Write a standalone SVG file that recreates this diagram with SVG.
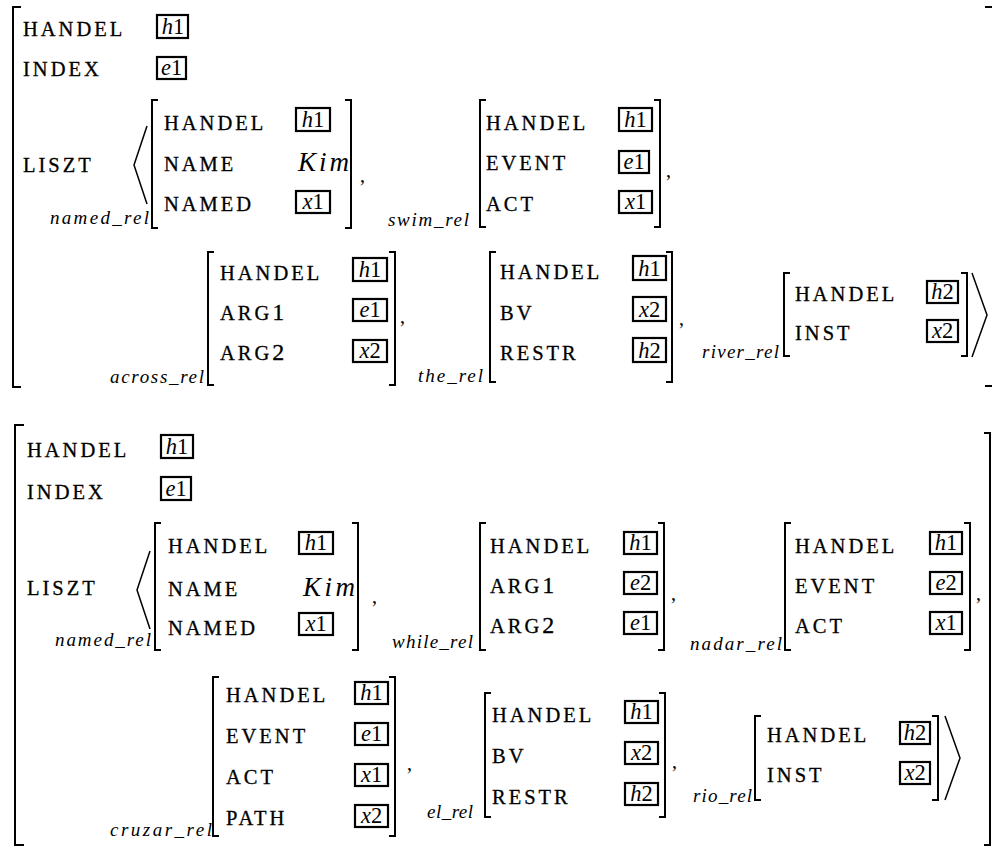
<svg xmlns="http://www.w3.org/2000/svg" width="992" height="848" viewBox="0 0 992 848">
<style>
.f{font-family:"Liberation Serif",serif;font-size:20.5px;letter-spacing:3px;stroke:#000;stroke-width:0.3px}
.d{font-size:24px;letter-spacing:0}
.v{font-family:"Liberation Serif",serif;font-size:22.5px;text-anchor:middle}
.it{font-style:italic}
.r{font-family:"Liberation Serif",serif;font-style:italic;font-size:19px}
.k{font-family:"Liberation Serif",serif;font-style:italic;font-size:27px}
.c{font-family:"Liberation Serif",serif;font-size:20px}
.b{fill:none;stroke:#000;stroke-width:2}
.x{fill:none;stroke:#000;stroke-width:2.2}
.a{fill:none;stroke:#000;stroke-width:1.5}
</style>
<rect width="992" height="848" fill="#fff"/>

<!-- ================= TOP AVM ================= -->
<g id="avm-top">
  <path class="b" d="M21,7 H13 V387 H21"/>
  <path class="b" d="M985,7 H992 M985,386 H992"/>
  <text class="f" x="23" y="36">HANDEL</text>
  <rect class="x" x="157" y="15" width="31" height="23"/>
  <text class="v" x="173" y="34"><tspan class="it">h</tspan>1</text>
  <text class="f" x="23" y="76">INDEX</text>
  <rect class="x" x="157" y="57" width="29" height="22"/>
  <text class="v" x="171.5" y="75"><tspan class="it">e</tspan>1</text>
  <text class="f" x="23" y="172">LISZT</text>
  <polyline class="a" points="147,126 134,165 147,204"/>
</g>

<g id="named-rel-1">
  <path class="b" d="M158,100 H152 V228 H158"/>
  <path class="b" d="M345,100 H351 V228 H345"/>
  <text class="f" x="164" y="130">HANDEL</text>
  <rect class="x" x="296" y="108" width="34" height="23"/>
  <text class="v" x="313" y="127"><tspan class="it">h</tspan>1</text>
  <text class="f" x="164" y="171">NAME</text>
  <text class="k" x="298" y="171" textLength="51" lengthAdjust="spacing">Kim</text>
  <text class="f" x="164" y="211">NAMED</text>
  <rect class="x" x="296" y="191" width="34" height="22"/>
  <text class="v" x="313" y="209"><tspan class="it">x</tspan>1</text>
  <text class="r" x="50" y="224" textLength="99" lengthAdjust="spacing">named_rel</text>
  <text class="c" x="360" y="182">,</text>
</g>

<g id="swim-rel">
  <path class="b" d="M486,100 H480 V227 H486"/>
  <path class="b" d="M654,100 H660 V227 H654"/>
  <text class="f" x="486" y="130">HANDEL</text>
  <rect class="x" x="619" y="108" width="33" height="23"/>
  <text class="v" x="635.5" y="127"><tspan class="it">h</tspan>1</text>
  <text class="f" x="486" y="170">EVENT</text>
  <rect class="x" x="619" y="151" width="30" height="22"/>
  <text class="v" x="634" y="169"><tspan class="it">e</tspan>1</text>
  <text class="f" x="486" y="211">ACT</text>
  <rect class="x" x="619" y="191" width="33" height="22"/>
  <text class="v" x="635.5" y="209"><tspan class="it">x</tspan>1</text>
  <text class="r" x="388" y="226" textLength="81" lengthAdjust="spacing">swim_rel</text>
  <text class="c" x="666" y="177">,</text>
</g>

<g id="across-rel">
  <path class="b" d="M214,252 H208 V385 H214"/>
  <path class="b" d="M389,252 H395 V385 H389"/>
  <text class="f" x="220" y="280">HANDEL</text>
  <rect class="x" x="353" y="258" width="34" height="23"/>
  <text class="v" x="370" y="277"><tspan class="it">h</tspan>1</text>
  <text class="f" x="220" y="320">ARG<tspan class="d">1</tspan></text>
  <rect class="x" x="353" y="299" width="34" height="22"/>
  <text class="v" x="370" y="317"><tspan class="it">e</tspan>1</text>
  <text class="f" x="220" y="360">ARG<tspan class="d">2</tspan></text>
  <rect class="x" x="353" y="340" width="34" height="22"/>
  <text class="v" x="370" y="358"><tspan class="it">x</tspan>2</text>
  <text class="r" x="110" y="383" textLength="94" lengthAdjust="spacing">across_rel</text>
  <text class="c" x="400" y="323">,</text>
</g>

<g id="the-rel">
  <path class="b" d="M496,252 H490 V382 H496"/>
  <path class="b" d="M666,252 H672 V382 H666"/>
  <text class="f" x="500" y="279">HANDEL</text>
  <rect class="x" x="633" y="256" width="33" height="24"/>
  <text class="v" x="649.5" y="276"><tspan class="it">h</tspan>1</text>
  <text class="f" x="500" y="320">BV</text>
  <rect class="x" x="633" y="297" width="33" height="24"/>
  <text class="v" x="649.5" y="317"><tspan class="it">x</tspan>2</text>
  <text class="f" x="500" y="360">RESTR</text>
  <rect class="x" x="633" y="338" width="33" height="24"/>
  <text class="v" x="649.5" y="358"><tspan class="it">h</tspan>2</text>
  <text class="r" x="418" y="382" textLength="65" lengthAdjust="spacing">the_rel</text>
  <text class="c" x="679" y="325">,</text>
</g>

<g id="river-rel">
  <path class="b" d="M790,273 H784 V356 H790"/>
  <path class="b" d="M961,273 H967 V356 H961"/>
  <text class="f" x="795" y="301">HANDEL</text>
  <rect class="x" x="927" y="281" width="31" height="22"/>
  <text class="v" x="942.5" y="299"><tspan class="it">h</tspan>2</text>
  <text class="f" x="795" y="340">INST</text>
  <rect class="x" x="927" y="320" width="31" height="22"/>
  <text class="v" x="942.5" y="338"><tspan class="it">x</tspan>2</text>
  <text class="r" x="702" y="358" textLength="77" lengthAdjust="spacing">river_rel</text>
  <polyline class="a" points="972,273 987,315 972,357"/>
</g>

<!-- ================= BOTTOM AVM ================= -->
<g id="avm-bottom">
  <path class="b" d="M24,425 H15 V845 H24"/>
  <path class="b" d="M984,433 H990 V845 H984"/>
  <text class="f" x="27" y="457">HANDEL</text>
  <rect class="x" x="161" y="435" width="32" height="23"/>
  <text class="v" x="177" y="454"><tspan class="it">h</tspan>1</text>
  <text class="f" x="27" y="499">INDEX</text>
  <rect class="x" x="161" y="477" width="30" height="23"/>
  <text class="v" x="176" y="496"><tspan class="it">e</tspan>1</text>
  <text class="f" x="27" y="595">LISZT</text>
  <polyline class="a" points="150,551 137,590 150,629"/>
</g>

<g id="named-rel-2">
  <path class="b" d="M161,523 H155 V650 H161"/>
  <path class="b" d="M352,523 H358 V650 H352"/>
  <text class="f" x="168" y="553">HANDEL</text>
  <rect class="x" x="299" y="532" width="34" height="22"/>
  <text class="v" x="316" y="550"><tspan class="it">h</tspan>1</text>
  <text class="f" x="168" y="596">NAME</text>
  <text class="k" x="303" y="596" textLength="52" lengthAdjust="spacing">Kim</text>
  <text class="f" x="168" y="635">NAMED</text>
  <rect class="x" x="299" y="613" width="34" height="22"/>
  <text class="v" x="316" y="631"><tspan class="it">x</tspan>1</text>
  <text class="r" x="55" y="646" textLength="96" lengthAdjust="spacing">named_rel</text>
  <text class="c" x="372" y="603">,</text>
</g>

<g id="while-rel">
  <path class="b" d="M486,523 H480 V650 H486"/>
  <path class="b" d="M658,523 H664 V650 H658"/>
  <text class="f" x="490" y="553">HANDEL</text>
  <rect class="x" x="624" y="532" width="33" height="22"/>
  <text class="v" x="640.5" y="550"><tspan class="it">h</tspan>1</text>
  <text class="f" x="490" y="593">ARG<tspan class="d">1</tspan></text>
  <rect class="x" x="624" y="572" width="33" height="22"/>
  <text class="v" x="640.5" y="590"><tspan class="it">e</tspan>2</text>
  <text class="f" x="490" y="633">ARG<tspan class="d">2</tspan></text>
  <rect class="x" x="624" y="612" width="33" height="22"/>
  <text class="v" x="640.5" y="630"><tspan class="it">e</tspan>1</text>
  <text class="r" x="392" y="648" textLength="81" lengthAdjust="spacing">while_rel</text>
  <text class="c" x="671" y="600">,</text>
</g>

<g id="nadar-rel">
  <path class="b" d="M791,523 H785 V650 H791"/>
  <path class="b" d="M964,523 H970 V650 H964"/>
  <text class="f" x="795" y="553">HANDEL</text>
  <rect class="x" x="930" y="532" width="32" height="22"/>
  <text class="v" x="946" y="550"><tspan class="it">h</tspan>1</text>
  <text class="f" x="795" y="593">EVENT</text>
  <rect class="x" x="930" y="572" width="32" height="22"/>
  <text class="v" x="946" y="590"><tspan class="it">e</tspan>2</text>
  <text class="f" x="795" y="633">ACT</text>
  <rect class="x" x="930" y="612" width="32" height="22"/>
  <text class="v" x="946" y="630"><tspan class="it">x</tspan>1</text>
  <text class="r" x="690" y="650" textLength="92" lengthAdjust="spacing">nadar_rel</text>
  <text class="c" x="976" y="600">,</text>
</g>

<g id="cruzar-rel">
  <path class="b" d="M219,677 H213 V836 H219"/>
  <path class="b" d="M389,677 H395 V836 H389"/>
  <text class="f" x="226" y="702">HANDEL</text>
  <rect class="x" x="355" y="682" width="33" height="22"/>
  <text class="v" x="371.5" y="700"><tspan class="it">h</tspan>1</text>
  <text class="f" x="226" y="743">EVENT</text>
  <rect class="x" x="355" y="723" width="33" height="22"/>
  <text class="v" x="371.5" y="741"><tspan class="it">e</tspan>1</text>
  <text class="f" x="226" y="784">ACT</text>
  <rect class="x" x="355" y="764" width="33" height="22"/>
  <text class="v" x="371.5" y="782"><tspan class="it">x</tspan>1</text>
  <text class="f" x="226" y="825">PATH</text>
  <rect class="x" x="355" y="805" width="33" height="22"/>
  <text class="v" x="371.5" y="823"><tspan class="it">x</tspan>2</text>
  <text class="r" x="110" y="836" textLength="102" lengthAdjust="spacing">cruzar_rel</text>
  <text class="c" x="407" y="770">,</text>
</g>

<g id="el-rel">
  <path class="b" d="M491,693 H485 V817 H491"/>
  <path class="b" d="M659,693 H665 V817 H659"/>
  <text class="f" x="492" y="722">HANDEL</text>
  <rect class="x" x="625" y="701" width="33" height="22"/>
  <text class="v" x="641.5" y="719"><tspan class="it">h</tspan>1</text>
  <text class="f" x="492" y="763">BV</text>
  <rect class="x" x="625" y="742" width="33" height="22"/>
  <text class="v" x="641.5" y="760"><tspan class="it">x</tspan>2</text>
  <text class="f" x="492" y="804">RESTR</text>
  <rect class="x" x="625" y="783" width="33" height="22"/>
  <text class="v" x="641.5" y="801"><tspan class="it">h</tspan>2</text>
  <text class="r" x="427" y="818" textLength="46" lengthAdjust="spacing">el_rel</text>
  <text class="c" x="672" y="768">,</text>
</g>

<g id="rio-rel">
  <path class="b" d="M761,716 H755 V800 H761"/>
  <path class="b" d="M932,716 H938 V800 H932"/>
  <text class="f" x="767" y="742">HANDEL</text>
  <rect class="x" x="900" y="722" width="30" height="22"/>
  <text class="v" x="915" y="740"><tspan class="it">h</tspan>2</text>
  <text class="f" x="767" y="782">INST</text>
  <rect class="x" x="900" y="762" width="30" height="22"/>
  <text class="v" x="915" y="780"><tspan class="it">x</tspan>2</text>
  <text class="r" x="693" y="802" textLength="59" lengthAdjust="spacing">rio_rel</text>
  <polyline class="a" points="945,716 960,758 945,800"/>
</g>

<g id="connectors"></g>
</svg>
